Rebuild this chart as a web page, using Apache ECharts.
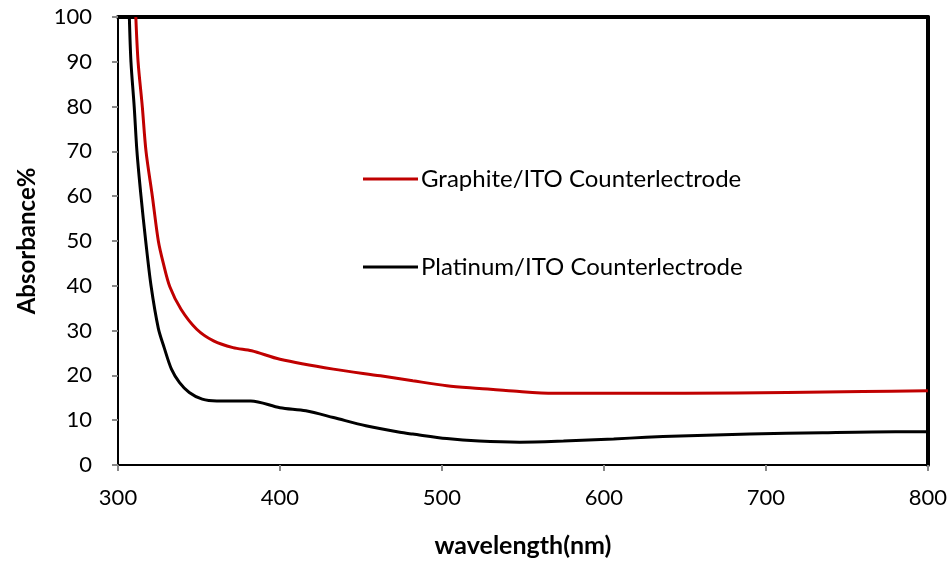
<!DOCTYPE html>
<html>
<head>
<meta charset="utf-8">
<script src="https://cdn.jsdelivr.net/npm/echarts@6/dist/echarts.min.js"></script>
<style>
  html, body { margin: 0; padding: 0; background: #fff; }
  #chart { width: 950px; height: 563px; }
</style>
</head>
<body>
<div id="chart"></div>
<script>
// data
const graphiteNm = [311, 312.4, 315, 317.3, 321.2, 324.9, 328, 332, 339, 348.6, 359, 371, 382.5, 400, 433, 462, 482, 503, 523, 544, 569, 650, 713, 760, 800]
const graphiteAbs = [100, 90, 80, 70, 60, 50, 45, 39.8, 34.7, 30.3, 27.7, 26.2, 25.5, 23.6, 21.4, 19.9, 18.8, 17.7, 17.1, 16.5, 16.0, 16.0, 16.2, 16.4, 16.6]

const platinumNm = [307, 308, 310, 311.7, 314.2, 317.1, 320.4, 324.9, 328.5, 333, 338, 344, 352, 361, 382, 400, 416, 433, 453, 474, 482, 503, 523, 548, 575, 606, 626, 647, 690, 735, 780, 800]
const platinumAbs = [100, 90, 80, 70, 60, 50, 40, 30.5, 26.2, 21.4, 18.4, 16.2, 14.7, 14.3, 14.3, 12.8, 12.1, 10.6, 8.75, 7.3, 6.9, 5.9, 5.35, 5.1, 5.35, 5.8, 6.2, 6.5, 6.9, 7.2, 7.4, 7.4]

const seriesNames = ['Graphite/ITO Counterlectrode', 'Platinum/ITO Counterlectrode']

const zip = (xs, ys) => xs.map((x, i) => [x, ys[i]])

const font = 'Lato, "Open Sans", sans-serif'
const chart = echarts.init(document.getElementById('chart'))

chart.setOption({
  animation: false,
  backgroundColor: '#fff',
  grid: { left: 118, right: 22, top: 17, bottom: 97 },
  legend: {
    orient: 'vertical',
    left: 358,
    top: 162,
    itemGap: 64,
    itemWidth: 55,
    itemHeight: 3,
    icon: 'rect',
    textStyle: { fontFamily: font, fontSize: 24, color: '#000', padding: [0, 0, 0, -2] },
    data: seriesNames,
  },
  xAxis: [
    {
      type: 'value',
      min: 300,
      max: 800,
      interval: 100,
      name: 'wavelength(nm)',
      nameLocation: 'middle',
      nameGap: 68,
      nameTextStyle: { fontFamily: font, fontSize: 25, fontWeight: 'bold', color: '#000' },
      axisLine: { lineStyle: { color: '#000', width: 2 } },
      axisTick: { show: true, length: 6, lineStyle: { color: '#888', width: 2 } },
      axisLabel: { fontFamily: font, fontSize: 22, color: '#000', margin: 22 },
      splitLine: { show: false },
    },
    {
      type: 'value',
      position: 'top',
      min: 300,
      max: 800,
      axisLine: { show: true, onZero: false, lineStyle: { color: '#000', width: 4 } },
      axisTick: { show: false },
      axisLabel: { show: false },
      splitLine: { show: false },
    },
  ],
  yAxis: [
    {
      type: 'value',
      min: 0,
      max: 100,
      interval: 10,
      name: 'Absorbance%',
      nameLocation: 'middle',
      nameGap: 79,
      nameTextStyle: { fontFamily: font, fontSize: 24, fontWeight: 'bold', color: '#000' },
      axisLine: { show: true, onZero: false, lineStyle: { color: '#000', width: 2 } },
      axisTick: { show: true, length: 6, lineStyle: { color: '#888', width: 2 } },
      axisLabel: { fontFamily: font, fontSize: 22, color: '#000', margin: 26 },
      splitLine: { show: false },
    },
    {
      type: 'value',
      position: 'right',
      min: 0,
      max: 100,
      axisLine: { show: true, onZero: false, lineStyle: { color: '#000', width: 4 } },
      axisTick: { show: false },
      axisLabel: { show: false },
      splitLine: { show: false },
    },
  ],
  series: [
    {
      name: seriesNames[0],
      type: 'line',
      showSymbol: false,
      smooth: 0.3,
      clip: true,
      lineStyle: { color: '#c00000', width: 3 },
      itemStyle: { color: '#c00000' },
      data: zip(graphiteNm, graphiteAbs),
    },
    {
      name: seriesNames[1],
      type: 'line',
      showSymbol: false,
      smooth: 0.3,
      clip: true,
      lineStyle: { color: '#000', width: 3 },
      itemStyle: { color: '#000' },
      data: zip(platinumNm, platinumAbs),
    },
  ],
})
</script>
</body>
</html>
